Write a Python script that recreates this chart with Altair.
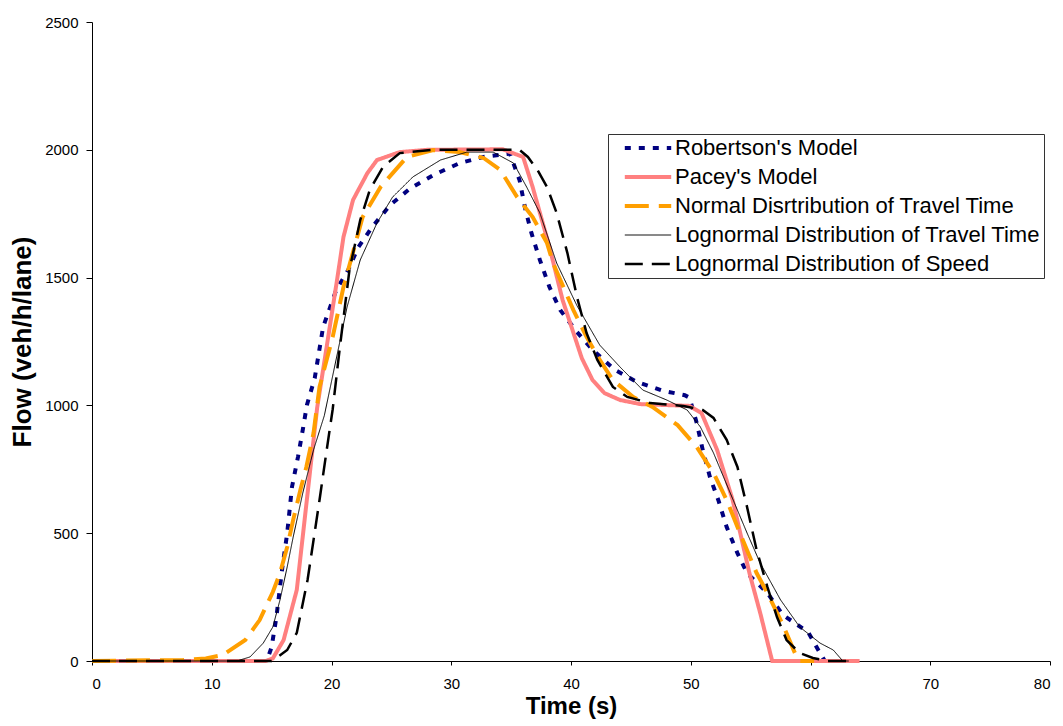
import altair as alt
import pandas as pd

series_names = [
    "Robertson's Model",
    "Pacey's Model",
    "Normal Disrtribution of Travel Time",
    "Lognormal Distribution of Travel Time",
    "Lognormal Distribution of Speed",
]

rob_x = [0, 14.6, 15.0, 15.4, 15.9, 16.3, 16.7, 17.2, 17.6, 17.95, 18.6, 19.3, 20.4, 21.4, 22.2, 23.4, 24.9,
         26.6, 28.5, 30.7, 32.7, 34.9, 35.7, 36.2, 36.7, 37.4, 38.2, 39.1, 40.5, 41.8, 43.7, 45.5, 47.7,
         49.5, 49.9, 50.5, 51.0, 51.6, 52.3, 53.0, 53.9, 54.7, 56.4, 57.7, 59.8, 60.8, 61.2]
rob_y = [0, 0, 55, 172, 368, 500, 681, 798, 904, 1002, 1107, 1307, 1452, 1530, 1616, 1698, 1784,
         1850, 1901, 1948, 1972, 1985, 1882, 1765, 1674, 1569, 1463, 1373, 1287, 1217, 1138, 1092, 1057,
         1040, 1030, 931, 826, 720, 630, 524, 422, 344, 266, 180, 113, 31, 0]

pac_x = [0, 14.5, 15.1, 16.0, 17.1, 18.8, 19.6, 20.5, 21.0, 21.8, 23.0, 23.8, 25.7, 28.0, 34.3, 36.0,
         36.8, 38.2, 39.3, 40.9, 41.8, 42.8, 44.1, 45.8, 49.9, 50.9, 52.2, 53.5, 54.9, 55.8, 56.8, 64.1]
pac_y = [0, 0, 10, 82, 278, 990, 1230, 1502, 1659, 1804, 1909, 1960, 1991, 2000, 2002, 1972,
         1854, 1620, 1412, 1185, 1099, 1048, 1021, 1005, 998, 970, 826, 630, 344, 188, 0, 0]

nor_x = [0, 7.6, 9.5, 10.9, 12.8, 14.0, 15.1, 15.7, 16.3, 16.8, 17.4, 17.9, 18.5, 19.0, 20.1, 21.0,
         22.6, 24.1, 26.3, 28.5, 30.7, 32.7, 34.1, 35.5, 36.8, 38.0, 38.5, 40.2, 41.3, 42.4, 43.5, 45.2,
         46.8, 48.9, 50.5, 51.9, 53.0, 54.1, 55.5, 56.4, 57.7, 58.7, 59.1, 60.3]
nor_y = [0, 4, 10, 23, 82, 160, 270, 344, 446, 552, 669, 759, 892, 1072, 1268, 1463,
         1737, 1855, 1972, 1999, 1991, 1968, 1921, 1815, 1737, 1635, 1557, 1373, 1268, 1178, 1099, 1033,
         994, 923, 837, 736, 630, 501, 344, 266, 141, 31, 0, 0]

lnt_x = [0, 12.1, 13.2, 14.3, 15.1, 15.7, 16.3, 16.8, 17.6, 18.5, 19.4, 20.5, 21.3, 22.4, 23.8, 25.1,
         26.8, 29.1, 31.3, 33.5, 35.2, 36.3, 37.4, 38.8, 40.5, 42.4, 44.1, 46.0, 48.0, 49.7, 50.8, 51.9,
         53.3, 54.7, 55.8, 57.5, 59.1, 60.8, 61.9, 62.7, 63.2]
lnt_y = [0, 0, 16, 70, 133, 239, 368, 485, 657, 826, 960, 1205, 1385, 1569, 1714, 1815,
         1894, 1960, 1991, 1991, 1948, 1854, 1753, 1557, 1390, 1236, 1150, 1060, 1021, 982, 916, 814,
         657, 501, 383, 239, 133, 70, 43, 0, 0]

lns_x = [0, 15.0, 15.4, 16.3, 17.1, 18.0, 18.5, 19.0, 19.6, 20.1, 20.7, 21.5, 22.4, 23.2, 24.3, 25.7,
         28.5, 35.7, 36.4, 37.2, 38.0, 38.8, 39.7, 40.5, 41.3, 42.2, 43.5, 44.7, 46.6, 49.4, 51.0, 51.9,
         53.0, 53.9, 54.7, 55.5, 56.4, 57.2, 58.0, 59.1, 60.2, 61.4, 63.0]
lns_y = [0, 0, 12, 43, 110, 317, 473, 630, 826, 985, 1228, 1530, 1725, 1843, 1933, 1987,
         2000, 2000, 1972, 1921, 1854, 1753, 1596, 1424, 1283, 1178, 1072, 1033, 1009, 998, 982, 951,
         865, 759, 603, 434, 290, 172, 82, 31, 12, 0, 0]

colors = ["#000080", "#FF8080", "#FF9F00", "#000000", "#000000"]
dashes = [[6, 8], [1, 0], [24, 10], [1, 0], [18, 9]]
widths = [4, 4, 4, 1, 2.5]

rows = []
for order, (name, xs, ys) in enumerate(zip(series_names,
                                            [rob_x, pac_x, nor_x, lnt_x, lns_x],
                                            [rob_y, pac_y, nor_y, lnt_y, lns_y])):
    for i, (x, y) in enumerate(zip(xs, ys)):
        rows.append({"series": name, "t": x, "flow": y, "idx": i})
df = pd.DataFrame(rows)

chart = alt.Chart(df).mark_line(strokeCap="butt").encode(
    x=alt.X("t:Q", title="Time (s)",
            scale=alt.Scale(domain=[0, 80], nice=False, zero=True),
            axis=alt.Axis(values=list(range(0, 81, 10)), grid=False, format="d",
                          tickSize=4, labelPadding=11, titlePadding=3, titleFontSize=24)),
    y=alt.Y("flow:Q", title="Flow (veh/h/lane)",
            scale=alt.Scale(domain=[0, 2500], nice=False),
            axis=alt.Axis(values=list(range(0, 2501, 500)), grid=False, format="d",
                          tickSize=6, labelPadding=8, titlePadding=9, titleFontSize=26)),
    color=alt.Color("series:N", sort=series_names,
                    scale=alt.Scale(domain=series_names, range=colors),
                    legend=alt.Legend(title=None, orient="none", legendX=516, legendY=112)),
    strokeDash=alt.StrokeDash("series:N", sort=series_names,
                              scale=alt.Scale(domain=series_names, range=dashes)),
    strokeWidth=alt.StrokeWidth("series:N", sort=series_names,
                                scale=alt.Scale(type="ordinal", domain=series_names, range=widths)),
    order="idx:Q",
).properties(
    width=958, height=639,
    autosize=alt.AutoSizeParams(type="none"),
    padding={"left": 92, "top": 22, "right": 13, "bottom": 65},
).configure_view(stroke=None).configure_axis(
    labelFont="Liberation Sans", labelFontSize=15, labelColor="#000",
    titleFont="Liberation Sans", titleFontWeight="bold", titleColor="#000",
    domainColor="#000", tickColor="#000", domainWidth=1, tickWidth=1,
).configure_legend(
    symbolType="M-2.9,0L2.9,0", symbolSize=256, symbolOffset=26, labelOffset=16,
    labelFont="Liberation Sans", labelFontSize=22, labelColor="#000", labelLimit=600,
    strokeColor="#333", padding=3, rowPadding=7, fillColor="white",
)

chart.save("out.html", embed_options={"renderer": "svg", "actions": False})
